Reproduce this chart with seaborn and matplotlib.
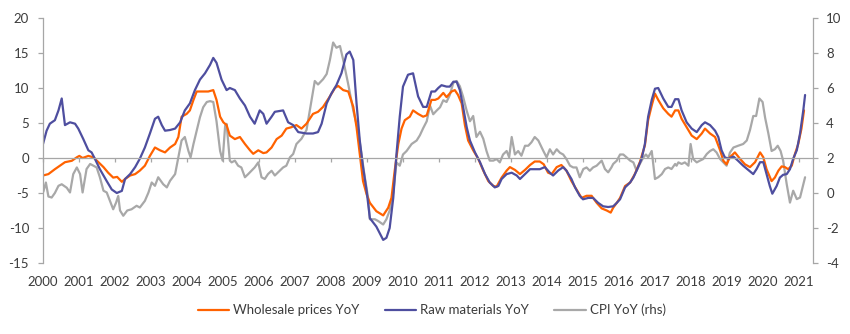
import matplotlib
matplotlib.use("Agg")
import matplotlib.pyplot as plt
import seaborn as sns
import pandas as pd

# ---------------- data ----------------
years = list(range(2000, 2022))
left_ticks = [-15, -10, -5, 0, 5, 10, 15, 20]
right_ticks = [-4, -2, 0, 2, 4, 6, 8, 10]
labels = ["Wholesale prices YoY", "Raw materials YoY", "CPI YoY (rhs)"]

wholesale_t = [
    2000.00, 2000.15, 2000.33, 2000.47, 2000.61, 2000.80, 2000.94, 2001.01, 2001.10, 2001.26,
    2001.40, 2001.54, 2001.68, 2001.81, 2001.95, 2002.06, 2002.19, 2002.28, 2002.42, 2002.56,
    2002.69, 2002.83, 2002.97, 2003.11, 2003.25, 2003.39, 2003.53, 2003.67, 2003.76, 2003.85,
    2003.99, 2004.08, 2004.18, 2004.27, 2004.45, 2004.59, 2004.73, 2004.82, 2004.92, 2005.01,
    2005.10, 2005.19, 2005.33, 2005.47, 2005.61, 2005.75, 2005.84, 2005.98, 2006.12, 2006.21,
    2006.35, 2006.49, 2006.63, 2006.76, 2006.90, 2007.04, 2007.18, 2007.32, 2007.50, 2007.64,
    2007.78, 2007.97, 2008.11, 2008.20, 2008.34, 2008.48, 2008.62, 2008.71, 2008.80, 2008.89,
    2008.99, 2009.08, 2009.26, 2009.45, 2009.59, 2009.68, 2009.77, 2009.87, 2009.96, 2010.05,
    2010.19, 2010.28, 2010.42, 2010.56, 2010.66, 2010.79, 2010.89, 2010.98, 2011.12, 2011.21,
    2011.35, 2011.44, 2011.53, 2011.63, 2011.72, 2011.81, 2011.95, 2012.09, 2012.23, 2012.37,
    2012.51, 2012.60, 2012.74, 2012.88, 2012.97, 2013.11, 2013.25, 2013.39, 2013.53, 2013.66,
    2013.80, 2013.91, 2014.03, 2014.13, 2014.27, 2014.40, 2014.54, 2014.68, 2014.82, 2014.96,
    2015.10, 2015.24, 2015.38, 2015.52, 2015.66, 2015.77, 2015.84, 2015.94, 2016.03, 2016.17,
    2016.31, 2016.44, 2016.58, 2016.72, 2016.81, 2016.91, 2017.00, 2017.09, 2017.23, 2017.37,
    2017.46, 2017.56, 2017.65, 2017.74, 2017.88, 2018.02, 2018.16, 2018.30, 2018.39, 2018.53,
    2018.67, 2018.81, 2018.90, 2018.99, 2019.08, 2019.22, 2019.36, 2019.50, 2019.64, 2019.78,
    2019.92, 2020.01, 2020.10, 2020.24, 2020.33, 2020.43, 2020.52, 2020.61, 2020.70, 2020.80,
    2020.89, 2020.98, 2021.07, 2021.14,
]
wholesale_v = [
    -2.5, -2.3, -1.6, -1.1, -0.6, -0.4, 0.1, 0.3, 0.0, 0.3,
    0.1, -0.6, -1.3, -2.1, -2.8, -2.7, -3.4, -3.0, -2.5, -2.3,
    -1.8, -1.1, 0.3, 1.5, 1.1, 0.8, 1.5, 2.0, 3.0, 5.9,
    6.3, 6.8, 8.3, 9.5, 9.5, 9.5, 9.7, 8.3, 5.9, 5.1,
    4.7, 3.2, 2.7, 3.0, 2.0, 1.1, 0.6, 1.1, 0.7, 0.8,
    1.5, 2.7, 3.2, 4.2, 4.4, 4.7, 4.2, 4.9, 6.3, 6.6,
    7.3, 8.8, 10.0, 10.3, 9.7, 9.5, 7.3, 4.4, 0.6, -3.3,
    -5.2, -6.4, -7.6, -8.2, -7.1, -5.7, -1.8, 2.0, 4.2, 5.4,
    5.9, 6.8, 6.3, 5.9, 6.1, 8.3, 8.3, 8.5, 9.3, 8.7,
    9.5, 9.7, 9.0, 7.8, 4.7, 2.5, 1.1, -0.1, -1.8, -3.3,
    -4.0, -4.1, -2.8, -1.8, -1.3, -1.7, -2.3, -1.7, -1.0, -0.5,
    -0.5, -0.9, -2.1, -2.3, -1.3, -1.0, -1.8, -3.3, -4.5, -5.7,
    -5.4, -5.4, -6.4, -7.2, -7.5, -7.8, -7.1, -6.4, -5.7, -4.0,
    -3.5, -2.3, -0.6, 1.8, 5.4, 7.5, 9.2, 8.3, 7.1, 6.3,
    5.9, 6.8, 6.8, 5.6, 4.4, 3.2, 2.7, 3.5, 4.2, 3.5,
    3.0, 1.1, -0.4, -0.9, 0.1, 0.8, -0.1, -0.9, -1.3, -0.6,
    0.8, 0.1, -1.6, -3.3, -2.8, -1.8, -1.2, -1.3, -1.6, -1.1,
    0.6, 2.0, 4.2, 6.8,
]

raw_t = [
    2000.00, 2000.10, 2000.19, 2000.33, 2000.43, 2000.52, 2000.61, 2000.75, 2000.89, 2000.98,
    2001.12, 2001.26, 2001.35, 2001.44, 2001.58, 2001.77, 2001.91, 2002.05, 2002.19, 2002.28,
    2002.42, 2002.56, 2002.69, 2002.83, 2002.97, 2003.11, 2003.20, 2003.30, 2003.39, 2003.53,
    2003.67, 2003.81, 2003.94, 2004.08, 2004.22, 2004.36, 2004.50, 2004.64, 2004.73, 2004.82,
    2004.96, 2005.10, 2005.19, 2005.33, 2005.47, 2005.61, 2005.75, 2005.88, 2006.02, 2006.12,
    2006.21, 2006.35, 2006.44, 2006.67, 2006.81, 2006.95, 2007.09, 2007.32, 2007.50, 2007.64,
    2007.74, 2007.88, 2008.01, 2008.15, 2008.29, 2008.43, 2008.52, 2008.62, 2008.71, 2008.80,
    2008.89, 2008.99, 2009.08, 2009.26, 2009.45, 2009.54, 2009.63, 2009.73, 2009.82, 2009.91,
    2010.00, 2010.14, 2010.28, 2010.42, 2010.56, 2010.66, 2010.79, 2010.89, 2010.98, 2011.07,
    2011.21, 2011.30, 2011.40, 2011.49, 2011.58, 2011.67, 2011.77, 2011.86, 2012.00, 2012.14,
    2012.28, 2012.41, 2012.55, 2012.65, 2012.74, 2012.88, 2013.02, 2013.16, 2013.25, 2013.39,
    2013.53, 2013.66, 2013.80, 2013.94, 2014.08, 2014.17, 2014.31, 2014.45, 2014.54, 2014.68,
    2014.78, 2014.91, 2015.00, 2015.15, 2015.28, 2015.42, 2015.56, 2015.70, 2015.84, 2015.94,
    2016.03, 2016.17, 2016.31, 2016.40, 2016.49, 2016.63, 2016.72, 2016.81, 2016.91, 2017.00,
    2017.09, 2017.23, 2017.37, 2017.46, 2017.56, 2017.65, 2017.74, 2017.88, 2018.02, 2018.16,
    2018.30, 2018.39, 2018.53, 2018.67, 2018.76, 2018.85, 2018.94, 2019.04, 2019.18, 2019.31,
    2019.45, 2019.59, 2019.73, 2019.82, 2019.92, 2020.01, 2020.10, 2020.19, 2020.26, 2020.38,
    2020.47, 2020.56, 2020.66, 2020.75, 2020.84, 2020.94, 2021.03, 2021.12, 2021.17,
]
raw_v = [
    2.0, 3.9, 4.9, 5.4, 6.8, 8.5, 4.7, 5.1, 4.9, 4.2,
    2.7, 1.1, 0.8, -0.1, -1.6, -3.3, -4.5, -5.0, -4.7, -3.0,
    -2.3, -1.3, -0.1, 1.5, 3.5, 5.6, 5.9, 4.7, 3.9, 4.0,
    4.2, 5.1, 6.8, 7.8, 9.7, 11.2, 12.1, 13.3, 14.3, 13.6,
    11.2, 9.7, 10.0, 9.7, 8.5, 7.5, 5.9, 4.9, 6.8, 6.3,
    4.9, 5.9, 6.6, 6.8, 5.1, 4.7, 3.7, 3.5, 3.5, 3.7,
    4.9, 7.8, 9.2, 10.4, 12.1, 14.8, 15.2, 14.0, 7.8, 2.5,
    -1.3, -4.7, -8.6, -9.8, -11.7, -11.4, -10.0, -5.7, 0.6, 5.9,
    10.2, 11.9, 12.1, 8.8, 7.3, 7.3, 9.5, 9.5, 10.0, 10.4,
    10.2, 10.2, 10.9, 10.9, 9.7, 7.3, 4.4, 2.5, 0.8, -0.6,
    -2.3, -3.5, -4.2, -4.0, -3.0, -2.3, -2.1, -2.5, -3.0, -2.3,
    -1.6, -1.6, -1.6, -1.3, -2.1, -2.5, -1.8, -1.3, -1.8, -3.0,
    -4.2, -5.4, -5.9, -5.7, -5.7, -6.4, -6.9, -7.0, -6.9, -6.4,
    -5.9, -4.2, -3.5, -2.8, -1.8, -0.1, 2.0, 5.9, 8.3, 9.9,
    10.0, 8.5, 7.3, 7.3, 8.4, 8.4, 6.8, 5.1, 4.2, 3.7,
    4.7, 5.1, 4.7, 3.9, 3.0, 1.1, 0.1, -0.1, 0.2, -0.4,
    -1.1, -1.7, -2.3, -1.6, -0.6, -0.6, -2.3, -4.0, -5.1, -4.0,
    -2.8, -2.4, -2.3, -1.6, -0.1, 1.1, 3.5, 6.8, 9.0,
]

cpi_t = [
    2000.01, 2000.08, 2000.15, 2000.24, 2000.33, 2000.43, 2000.52, 2000.66, 2000.75, 2000.84,
    2000.94, 2001.03, 2001.10, 2001.21, 2001.31, 2001.40, 2001.49, 2001.58, 2001.68, 2001.77,
    2001.86, 2001.95, 2002.03, 2002.09, 2002.14, 2002.23, 2002.34, 2002.46, 2002.60, 2002.69,
    2002.83, 2002.93, 2003.02, 2003.11, 2003.20, 2003.34, 2003.44, 2003.53, 2003.67, 2003.76,
    2003.85, 2003.94, 2004.04, 2004.10, 2004.18, 2004.27, 2004.36, 2004.45, 2004.55, 2004.64,
    2004.73, 2004.82, 2004.92, 2004.99, 2005.06, 2005.10, 2005.19, 2005.24, 2005.33, 2005.42,
    2005.51, 2005.61, 2005.70, 2005.79, 2005.88, 2005.98, 2006.07, 2006.16, 2006.25, 2006.35,
    2006.44, 2006.53, 2006.67, 2006.76, 2006.86, 2006.95, 2007.04, 2007.18, 2007.32, 2007.41,
    2007.55, 2007.64, 2007.78, 2007.88, 2007.97, 2008.06, 2008.15, 2008.25, 2008.34, 2008.48,
    2008.62, 2008.75, 2008.85, 2008.94, 2009.03, 2009.08, 2009.22, 2009.31, 2009.45, 2009.54,
    2009.63, 2009.73, 2009.82, 2009.91, 2010.00, 2010.10, 2010.24, 2010.38, 2010.47, 2010.56,
    2010.66, 2010.75, 2010.84, 2010.93, 2011.03, 2011.12, 2011.21, 2011.30, 2011.40, 2011.49,
    2011.58, 2011.67, 2011.77, 2011.86, 2011.95, 2012.04, 2012.14, 2012.23, 2012.32, 2012.41,
    2012.51, 2012.60, 2012.69, 2012.78, 2012.88, 2012.95, 2013.02, 2013.11, 2013.20, 2013.29,
    2013.39, 2013.48, 2013.57, 2013.66, 2013.76, 2013.90, 2013.99, 2014.08, 2014.17, 2014.27,
    2014.36, 2014.45, 2014.54, 2014.64, 2014.73, 2014.82, 2014.91, 2015.01, 2015.10, 2015.19,
    2015.28, 2015.38, 2015.52, 2015.61, 2015.70, 2015.79, 2015.84, 2015.94, 2016.03, 2016.12,
    2016.21, 2016.31, 2016.40, 2016.49, 2016.58, 2016.68, 2016.75, 2016.81, 2016.91, 2017.00,
    2017.09, 2017.19, 2017.28, 2017.37, 2017.46, 2017.56, 2017.60, 2017.65, 2017.74, 2017.83,
    2017.93, 2017.99, 2018.06, 2018.16, 2018.25, 2018.34, 2018.44, 2018.53, 2018.62, 2018.71,
    2018.81, 2018.90, 2018.99, 2019.08, 2019.18, 2019.31, 2019.45, 2019.55, 2019.64, 2019.73,
    2019.81, 2019.90, 2019.99, 2020.06, 2020.15, 2020.24, 2020.33, 2020.41, 2020.49, 2020.56,
    2020.66, 2020.75, 2020.84, 2020.94, 2021.03, 2021.17,
]
cpi_v = [
    0.07, 0.6, -0.2, -0.26, 0.0, 0.41, 0.5, 0.3, 0.03, 1.08,
    1.46, 1.08, 0.03, 1.37, 1.66, 1.56, 1.46, 0.9, 0.13, 0.03,
    -0.45, -0.93, -0.55, -0.17, -1.0, -1.3, -1.0, -0.93, -0.73, -0.83,
    -0.45, 0.03, 0.6, 0.41, 0.9, 0.5, 0.32, 0.7, 1.08, 2.04,
    3.0, 3.2, 2.4, 2.04, 2.8, 3.57, 4.33, 4.9, 5.2, 5.25,
    5.2, 4.1, 2.4, 1.85, 3.85, 3.95, 1.85, 1.75, 1.85, 1.56,
    1.46, 0.9, 1.08, 1.27, 1.46, 1.75, 0.9, 0.8, 1.08, 1.27,
    1.0, 1.18, 1.46, 1.56, 2.04, 2.23, 2.8, 3.1, 3.6, 4.7,
    6.4, 6.2, 6.5, 6.8, 7.6, 8.6, 8.3, 8.4, 7.6, 6.2,
    4.7, 3.6, 2.2, 0.9, -0.26, -1.5, -1.5, -1.6, -1.8, -1.5,
    -1.0, 0.03, 1.75, 1.56, 2.2, 2.4, 2.8, 3.0, 3.3, 3.7,
    4.1, 5.0, 4.5, 4.7, 4.9, 5.3, 5.2, 5.6, 6.3, 6.4,
    6.1, 5.5, 4.7, 4.1, 4.4, 3.2, 3.5, 3.1, 2.4, 1.85,
    1.85, 1.94, 1.75, 2.2, 2.4, 2.04, 3.2, 2.2, 2.4, 2.13,
    2.7, 2.7, 2.9, 3.2, 3.0, 2.4, 2.04, 2.5, 2.2, 2.5,
    2.3, 2.2, 1.94, 1.56, 1.46, 1.46, 0.9, 1.37, 1.46, 1.27,
    1.46, 1.56, 1.85, 1.37, 1.18, 1.46, 1.66, 1.85, 2.2, 2.2,
    2.04, 1.85, 1.75, 1.27, 1.66, 2.04, 2.2, 2.04, 2.4, 0.8,
    0.9, 1.08, 1.37, 1.46, 1.37, 1.66, 1.56, 1.75, 1.66, 1.75,
    1.56, 2.8, 1.94, 1.75, 1.85, 1.94, 2.23, 2.4, 2.5, 2.32,
    1.94, 1.75, 1.56, 2.3, 2.6, 2.7, 2.8, 3.0, 3.6, 4.4,
    4.4, 5.4, 5.2, 4.3, 3.4, 2.4, 2.5, 2.7, 2.4, 1.85,
    0.5, -0.55, 0.13, -0.35, -0.26, 0.9,
]

# ---------------- style ----------------
ORANGE = "#FF6200"
NAVY = "#4E4E9F"
GREY = "#A8A8A8"
SPINE = "#A6A6A6"
TXT = "#3C3C3C"

sns.set_theme(style="white")
plt.rcParams['font.family'] = ['Lato', 'DejaVu Sans']

df_w = pd.DataFrame({"t": wholesale_t, "v": wholesale_v})
df_r = pd.DataFrame({"t": raw_t, "v": raw_v})
df_c = pd.DataFrame({"t": cpi_t, "v": cpi_v})

W, H = 850, 334
fig = plt.figure(figsize=(W / 100, H / 100), dpi=100)
ax = fig.add_axes([43 / W, 1 - 263 / H, (813 - 43) / W, (263 - 18) / H])
ax2 = ax.twinx()
ax.set_zorder(ax2.get_zorder() + 1)
ax.patch.set_visible(False)

sns.lineplot(data=df_c, x="t", y="v", ax=ax2, color=GREY, lw=1.6, label=labels[2])
sns.lineplot(data=df_w, x="t", y="v", ax=ax, color=ORANGE, lw=1.6, label=labels[0])
sns.lineplot(data=df_r, x="t", y="v", ax=ax, color=NAVY, lw=1.6, label=labels[1])

for a in (ax, ax2):
    if a.get_legend() is not None:
        a.get_legend().remove()
    a.set_xlabel("")
    a.set_ylabel("")

ax.set_xlim(2000, 2021.39)
ax.set_ylim(-15, 20)
ax2.set_ylim(-4, 10)
ax.set_xticks(years)
ax.set_xticklabels([str(y) for y in years])
ax.set_yticks(left_ticks)
ax.set_yticklabels([str(v) for v in left_ticks])
ax2.set_yticks(right_ticks)
ax2.set_yticklabels([str(v) for v in right_ticks])

for s in ["top", "right"]:
    ax.spines[s].set_visible(False)
for s in ["top", "left", "bottom"]:
    ax2.spines[s].set_visible(False)
ax.spines["left"].set_color(SPINE)
ax.spines["left"].set_linewidth(0.9)
ax2.spines["right"].set_color(SPINE)
ax2.spines["right"].set_linewidth(0.9)
ax.spines["bottom"].set_position(("data", 0))
ax.spines["bottom"].set_color(SPINE)
ax.spines["bottom"].set_linewidth(0.9)

ax.tick_params(axis="y", direction="out", length=3.5, width=0.9, color=SPINE,
               labelcolor=TXT, labelsize=9.5, pad=6.5, left=True)
ax2.tick_params(axis="y", direction="out", length=3.5, width=0.9, color=SPINE,
                labelcolor=TXT, labelsize=9.5, pad=6, right=True)
ax.tick_params(axis="x", direction="out", length=3, width=0.9, color=SPINE,
               labelcolor=TXT, labelsize=9.5, pad=82, bottom=True)
ax.grid(False)
ax2.grid(False)

h1, l1 = ax.get_legend_handles_labels()
h2, l2 = ax2.get_legend_handles_labels()
leg = fig.legend(h1 + h2, l1 + l2, loc="center", bbox_to_anchor=(0.508, 0.072),
                 ncol=3, frameon=False, fontsize=9.5, handlelength=2.4,
                 handletextpad=0.3, columnspacing=1.9)
for t in leg.get_texts():
    t.set_color(TXT)

fig.savefig("out.png", dpi=100)
